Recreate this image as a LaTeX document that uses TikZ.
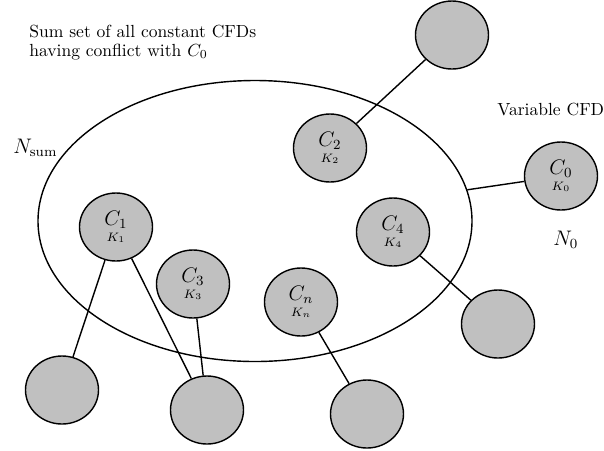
\documentclass[tikz,border=0pt]{standalone}
\usetikzlibrary{shapes.geometric}
\definecolor{nodegray}{RGB}{192,192,192}
\begin{document}
\begin{tikzpicture}[x=0.57pt,y=-0.57pt,
  cfd/.style={ellipse,draw,line width=0.8pt,fill=nodegray,minimum width=73*0.57pt,minimum height=68*0.57pt,inner sep=0pt,align=center},
  link/.style={line width=0.8pt},
  lab/.style={inner sep=0pt,anchor=base west}]
\useasboundingbox (0,0) rectangle (604,450);
\node[ellipse,draw,line width=0.8pt,minimum width=434*0.57pt,minimum height=281*0.57pt,inner sep=0pt] (big) at (255,221) {};
\node[cfd] (tr) at (452,35) {};
\node[cfd] (c2) at (330,148) {{\large$C_2$}\\[-3pt]{\scriptsize$K_2$}};
\node[cfd] (c0) at (561,176) {{\large$C_0$}\\[-3pt]{\scriptsize$K_0$}};
\node[cfd] (c1) at (116,227) {{\large$C_1$}\\[-3pt]{\scriptsize$K_1$}};
\node[cfd] (c4) at (393,232) {{\large$C_4$}\\[-3pt]{\scriptsize$K_4$}};
\node[cfd] (c3) at (193,284) {{\large$C_3$}\\[-3pt]{\scriptsize$K_3$}};
\node[cfd] (cn) at (301,302) {{\large$C_n$}\\[-3pt]{\scriptsize$K_n$}};
\node[cfd] (br) at (498,324) {};
\node[cfd] (bl) at (62,390) {};
\node[cfd] (bm) at (207,410) {};
\node[cfd] (bmr) at (367,414) {};
\draw[link] (tr) -- (c2);
\draw[link] (c0) -- (big);
\draw[link] (c4) -- (br);
\draw[link] (c1) -- (bl);
\draw[link] (c1) -- (bm);
\draw[link] (c3) -- (bm);
\draw[link] (cn) -- (bmr);
\node[lab,align=left,font=\fontsize{10}{10.5}\selectfont] (title) at (29,56) {Sum set of all constant CFDs\\having conflict with $C_0$};
\node[lab] (var) at (497,115) {Variable CFD};
\node[lab,font=\large] (nsum) at (13,153) {$N_{\rm sum}$};
\node[lab,font=\large] (n0) at (553,245) {$N_0$};
\end{tikzpicture}
\end{document}
